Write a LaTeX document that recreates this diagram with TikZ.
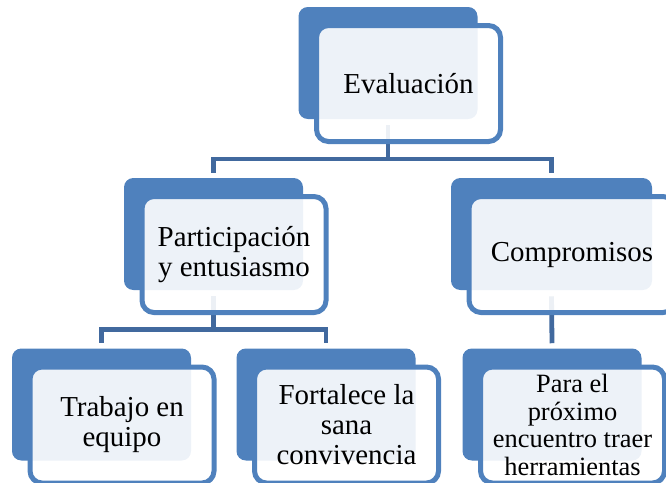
\documentclass[tikz,border=0pt]{standalone}
\usepackage{fontspec}
\setmainfont{Liberation Serif}
\usepackage{tikz}
\usetikzlibrary{positioning}
\definecolor{smblue}{HTML}{4F81BD}
\definecolor{smline}{HTML}{41699E}

\begin{document}
\begin{tikzpicture}[x=0.75pt,y=-0.75pt,
 back/.style={fill=smblue,rounded corners=7pt,minimum width=134.25pt,minimum height=84pt,inner sep=0pt},
 front/.style={draw=smblue,line width=3.75pt,fill=white,fill opacity=0.9,text opacity=1,rounded corners=9pt,
   minimum width=138pt,minimum height=87pt,inner sep=0pt,align=center,font=\fontsize{21.7}{22.5}\selectfont},
 conn/.style={draw=smline,line width=3.6pt}]
\useasboundingbox (0,0) rectangle (666,482);
% back boxes
\node[back] (evB) at (388,63) {};
\node[back] (parB) at (213.5,234) {};
\node[back,minimum width=150.75pt] (comB) at (551.5,234) {};
\node[back] (traB) at (101.5,404.5) {};
\node[back] (forB) at (326,404.5) {};
\node[back] (paraB) at (552,404.5) {};
% connectors
\coordinate (bar1) at (388,159);
\coordinate (bar2) at (213.5,329.5);
\draw[conn] ([yshift=-4.5pt]evB.south) -- (bar1) -| ([yshift=3.75pt]parB.north);
\draw[conn] (bar1) -| ([yshift=3.75pt]comB.north);
\draw[conn] ([yshift=-4.5pt]parB.south) -- (bar2) -| ([yshift=3.75pt]traB.north);
\draw[conn] (bar2) -| ([yshift=3.75pt]forB.north);
\draw[conn] ([yshift=-4.5pt]comB.south) -- ([yshift=3.75pt]paraB.north);
% front boxes
\node[front] (evF) at ([shift={(20.5,20.5)}]evB.center) {Evaluación};
\node[front] (parF) at ([shift={(20.5,20.5)}]parB.center) {Participación\\y entusiasmo};
\node[front,minimum width=154.5pt] (comF) at ([shift={(20.5,20.5)}]comB.center) {Compromisos};
\node[front] (traF) at ([shift={(20.5,20.5)}]traB.center) {Trabajo en\\equipo};
\node[front] (forF) at ([shift={(20.5,20.5)}]forB.center) {Fortalece la\\sana\\convivencia};
\node[front,font=\fontsize{19.8}{20.8}\selectfont] (paraF) at ([shift={(20.5,20.5)}]paraB.center)
  {Para el\\próximo\\encuentro traer\\herramientas};
\end{tikzpicture}
\end{document}
